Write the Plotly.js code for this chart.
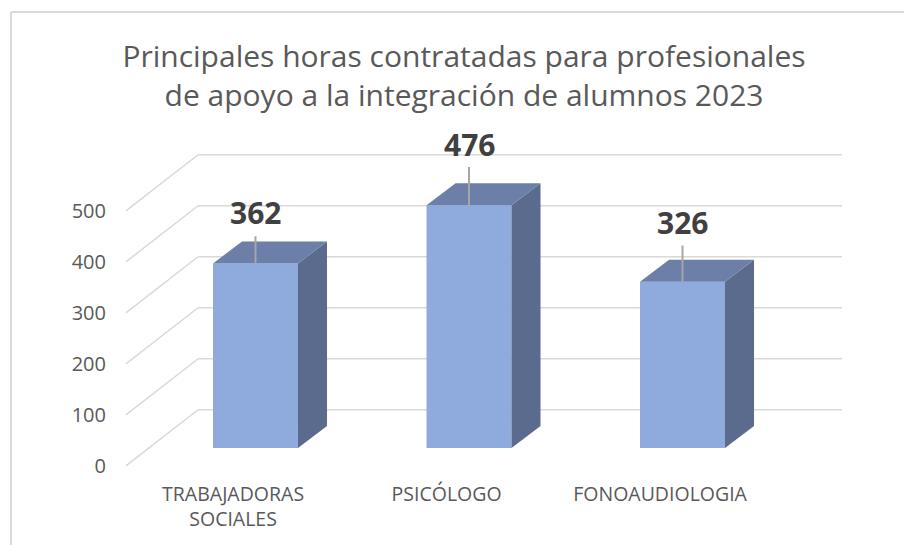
<!DOCTYPE html>
<html><head><meta charset="utf-8">
<script src="https://cdn.plot.ly/plotly-3.0.1.min.js"></script>
<style>html,body{margin:0;padding:0;background:#fff;overflow:hidden}#c{width:904px;height:545px}</style>
</head><body><div id="c"></div>
<script>
const categories = ['TRABAJADORAS<br>SOCIALES', 'PSICÓLOGO', 'FONOAUDIOLOGIA'];
const positions = [0, 1, 2];
const values = [362, 476, 326];
const leaderLengths = [53, 75, 71];
const labelLifts = [100, 120, 116];
const gridValues = [0, 100, 200, 300, 400, 500];
const gridLabels = ['0', '100', '200', '300', '400', '500'];

const W = 0.398, DX = 0.136, DY = 43;
const frontShift = -35, backShift = 75, xFront = -0.607, xBack = -0.269, xEnd = 2.747, labelShift = -0.105;
const grid = '#d9d9d9', text = '#595959';
const FONT = '"Open Sans", sans-serif';

const traces = [{
  type: 'bar', x: positions, y: values, width: W,
  marker: {color: '#8faadc', line: {width: 0}}, hoverinfo: 'y'
}];
positions.forEach((p, i) => {
  const l = p - W / 2, r = p + W / 2, v = values[i];
  traces.push({type: 'scatter', mode: 'lines', x: [r, r + DX, r + DX, r, r], y: [0, DY, v + DY, v, 0],
    fill: 'toself', fillcolor: '#5b6b8d', line: {width: 0}, hoverinfo: 'skip'});
  traces.push({type: 'scatter', mode: 'lines', x: [l, l + DX, r + DX, r, l], y: [v, v + DY, v + DY, v, v],
    fill: 'toself', fillcolor: '#6b7fa8', line: {width: 0}, hoverinfo: 'skip'});
  traces.push({type: 'scatter', mode: 'lines', x: [p, p], y: [v, v + leaderLengths[i]],
    line: {color: '#a6a6a6', width: 2}, hoverinfo: 'skip'});
});

const shapes = [];
gridValues.forEach(v => {
  const ln = {color: grid, width: 1.5};
  shapes.push({type: 'line', layer: 'below', xref: 'x', yref: 'y', x0: xFront, y0: v + frontShift, x1: xBack, y1: v + backShift, line: ln});
  shapes.push({type: 'line', layer: 'below', xref: 'x', yref: 'y', x0: xBack, y0: v + backShift, x1: xEnd, y1: v + backShift, line: ln});
});
const m = {l: 107, r: 44, t: 130, b: 65};
const pw = 904 - m.l - m.r, ph = 545 - m.t - m.b;
const frame = {color: grid, width: 2};
shapes.push({type: 'line', xref: 'paper', yref: 'paper', x0: (11 - m.l) / pw, x1: (11 - m.l) / pw, y0: (545 - 12 - m.b) / ph, y1: -m.b / ph, line: frame});
shapes.push({type: 'line', xref: 'paper', yref: 'paper', x0: (11 - m.l) / pw, x1: (904 - m.l) / pw, y0: (545 - 12 - m.b) / ph, y1: (545 - 12 - m.b) / ph, line: frame});

const layout = {
  width: 904, height: 545, margin: m, showlegend: false,
  paper_bgcolor: '#fff', plot_bgcolor: 'rgba(0,0,0,0)',
  font: {family: FONT, color: text},
  title: {text: 'Principales horas contratadas para profesionales<br>de apoyo a la integración de alumnos 2023',
    font: {family: FONT, size: 30, color: text}, x: 464 / 904, xanchor: 'center', xref: 'container', y: 1 - 67 / 545, yanchor: 'middle'},
  xaxis: {range: [(107 - 255.5) / 213.5, (860 - 255.5) / 213.5], tickmode: 'array',
    tickvals: positions.map(p => p + labelShift), ticktext: categories,
    showgrid: false, zeroline: false, showline: false, ticks: '', tickfont: {family: FONT, size: 19.5, color: text}},
  yaxis: {range: [-62.7, 623.5], tickmode: 'array',
    tickvals: gridValues.map(v => v + frontShift), ticktext: gridLabels,
    showgrid: false, zeroline: false, showline: false, ticks: '', tickfont: {family: FONT, size: 20, color: text}},
  shapes,
  annotations: positions.map((p, i) => ({x: p, y: values[i] + labelLifts[i], xref: 'x', yref: 'y', text: '<b>' + values[i] + '</b>',
    showarrow: false, font: {family: FONT, size: 30, color: '#404040'}, xanchor: 'center', yanchor: 'middle'}))
};
Plotly.newPlot('c', traces, layout, {displayModeBar: false});
</script></body></html>
